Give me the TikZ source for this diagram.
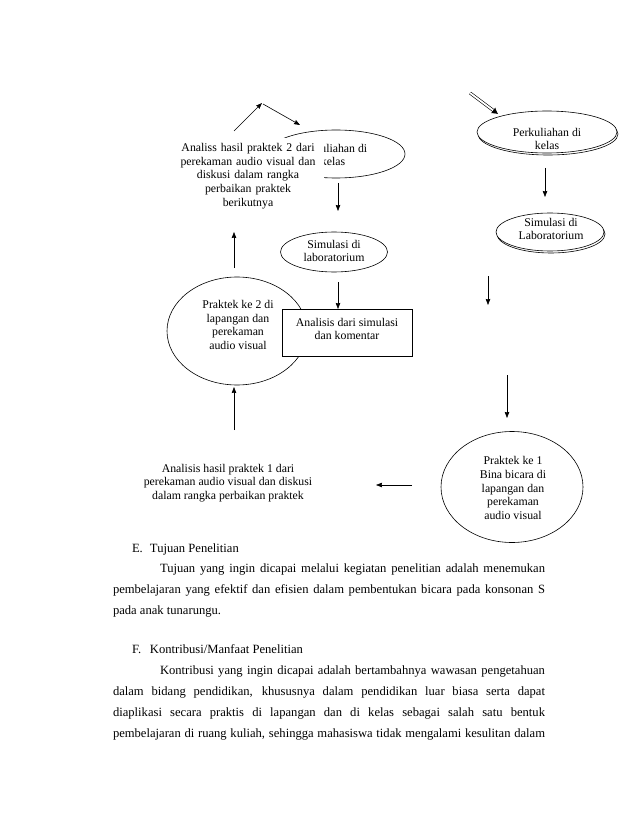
\documentclass[tikz,border=0pt]{standalone}
\usepackage{fontspec}
\setmainfont{Liberation Serif}
\usetikzlibrary{shapes.geometric,arrows.meta}
\begin{document}
\begin{tikzpicture}[x=1pt,y=-1pt,
  every node/.style={inner sep=0pt,outer sep=0pt},
  dfont/.style={font=\fontsize{11.8}{13.8}\selectfont},
  dtext/.style={dfont,align=center},
  ell/.style={ellipse,draw,line width=0.6pt,fill=white},
  shadowell/.style={ellipse,draw,line width=0.6pt,fill=white},
  arr/.style={line width=0.6pt,-{Stealth[length=6pt,width=4.5pt,inset=0.5pt]}},
  bodytext/.style={font=\fontsize{12.6}{21.3}\selectfont,text width=432pt,align=justify,anchor=base west},
  head/.style={font=\fontsize{12.6}{21.3}\selectfont,anchor=base west}
]
\useasboundingbox[fill=white] (0,0) rectangle (638,826);

% ---- top-left cluster ----
\node[ell,minimum width=138pt,minimum height=48pt] (k1) at (336,154) {};
\node[dtext] (k1t) at (333,155) {Perkuliahan di\\kelas};
\node[dtext,fill=white,inner xsep=4pt,inner ysep=5pt,text width=144pt] (an2) at (248,176)
  {Analiss hasil praktek 2 dari\\perekaman audio visual dan\\diskusi dalam rangka\\perbaikan praktek\\berikutnya};

\coordinate (t0) at (234,131);
\coordinate (t1) at (262,103);
\coordinate (t2) at (263,104);
\coordinate (t3) at (300,125);
\draw[arr] (t0) -- (t1);
\draw[arr] (t2) -- (t3);

\coordinate (a1s) at (338,183);
\coordinate (a1e) at (338,211);
\draw[arr] (a1s) -- (a1e);

\node[ell,minimum width=107pt,minimum height=40pt] (s1) at (334,252) {};
\node[dtext] (s1t) at (334,251) {Simulasi di\\laboratorium};

\coordinate (a2s) at (338,282);
\coordinate (a2e) at (338,309);
\draw[arr] (a2s) -- (a2e);

\node[ell,minimum width=140pt,minimum height=108pt] (p2) at (237,331) {};
\node[dtext] (p2t) at (238,325) {Praktek ke 2 di\\lapangan dan\\perekaman\\audio visual};

\node[draw,line width=0.6pt,fill=white,minimum width=130pt,minimum height=47pt] (box) at (347,332.5) {};
\node[dtext] (boxt) at (347,329) {Analisis dari simulasi\\dan komentar};

\coordinate (u1s) at (234,268);
\coordinate (u1e) at (234,232);
\draw[arr] (u1s) -- (u1e);

\coordinate (u2s) at (234,430);
\coordinate (u2e) at (234,387);
\draw[arr] (u2s) -- (u2e);

\node[dtext] (an1) at (228,483) {Analisis hasil praktek 1 dari\\perekaman audio visual dan diskusi\\dalam rangka perbaikan praktek};

\coordinate (l1s) at (412,485);
\coordinate (l1e) at (376,485);
\draw[arr] (l1s) -- (l1e);

% ---- right column ----
\coordinate (d0) at (470,93);
\coordinate (d1) at (498,114);
\draw[line width=0.6pt,double,double distance=1.8pt,-{Latex[length=6pt,width=7pt]}] (d0) -- (d1);

\node[shadowell,minimum width=140pt,minimum height=42pt] (k2s) at (548,134) {};
\node[ell,minimum width=140pt,minimum height=42pt] (k2) at (547,132) {};
\node[dtext] (k2t) at (547,139) {Perkuliahan di\\kelas};

\coordinate (r1s) at (545,168);
\coordinate (r1e) at (545,197);
\draw[arr] (r1s) -- (r1e);

\node[shadowell,minimum width=108pt,minimum height=38pt] (s2s) at (551,234) {};
\node[ell,minimum width=108pt,minimum height=38pt] (s2) at (550,232) {};
\node[dtext] (s2t) at (551,229) {Simulasi di\\Laboratorium};

\coordinate (r2s) at (488,276);
\coordinate (r2e) at (488,305);
\draw[arr] (r2s) -- (r2e);

\coordinate (r3s) at (507,375);
\coordinate (r3e) at (507,418);
\draw[arr] (r3s) -- (r3e);

\node[ell,minimum width=142pt,minimum height=111pt] (p1) at (512,487) {};
\node[dtext] (p1t) at (513,488) {Praktek ke 1\\Bina bicara di\\lapangan dan\\perekaman\\audio visual};

% ---- body text ----
\node[head] (eh) at (132,552) {\makebox[18pt][l]{E.}Tujuan Penelitian};
\node[bodytext] (ep) at (113,572) {\hspace*{47pt}Tujuan yang ingin dicapai melalui kegiatan penelitian adalah menemukan\linebreak
pembelajaran yang efektif dan efisien dalam pembentukan bicara pada konsonan S\linebreak
pada anak tunarungu.};

\node[head] (fh) at (132,653) {\makebox[18pt][l]{F.}Kontribusi/Manfaat Penelitian};
\node[bodytext] (fp) at (113,674) {\hspace*{47pt}Kontribusi yang ingin dicapai adalah bertambahnya wawasan pengetahuan\linebreak
dalam bidang pendidikan, khususnya dalam pendidikan luar biasa serta dapat\linebreak
diaplikasi secara praktis di lapangan dan di kelas sebagai salah satu bentuk\linebreak
pembelajaran di ruang kuliah, sehingga mahasiswa tidak mengalami kesulitan dalam\linebreak};
\end{tikzpicture}
\end{document}
